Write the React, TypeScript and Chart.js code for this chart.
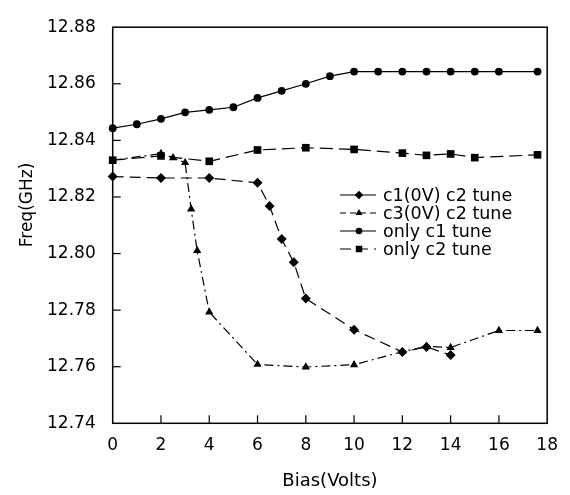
import React, { useEffect, useRef } from "react";
import { Chart, registerables } from "chart.js";
Chart.register(...registerables);

// ---- data ----
const xTickValues = [0, 2, 4, 6, 8, 10, 12, 14, 16, 18];
const yTickValues = [12.74, 12.76, 12.78, 12.8, 12.82, 12.84, 12.86, 12.88];

const seriesNames = ["c1(0V) c2 tune", "c3(0V) c2 tune", "only c1 tune", "only c2 tune"];
const xTitle = "Bias(Volts)";
const yTitle = "Freq(GHz)";

const c1v0Bias = [0, 2, 4, 6, 6.5, 7, 7.5, 8, 10, 12, 13, 14];
const c1v0Freq = [12.8272, 12.8267, 12.8267, 12.825, 12.8168, 12.8051, 12.7969, 12.7841, 12.7731, 12.7652, 12.767, 12.7641];

const c3v0Bias = [0, 2, 2.5, 3, 3.25, 3.5, 4, 6, 8, 10, 12, 13, 14, 16, 17.6];
const c3v0Freq = [12.833, 12.8353, 12.8338, 12.8321, 12.8157, 12.801, 12.7793, 12.7608, 12.7599, 12.7607, 12.7653, 12.7672, 12.7668, 12.7728, 12.7728];

const c1OnlyBias = [0, 1, 2, 3, 4, 5, 6, 7, 8, 9, 10, 11, 12, 13, 14, 15, 16, 17.6];
const c1OnlyFreq = [12.8443, 12.8457, 12.8476, 12.8499, 12.8508, 12.8517, 12.855, 12.8575, 12.86, 12.8627, 12.8643, 12.8643, 12.8643, 12.8643, 12.8643, 12.8643, 12.8643, 12.8643];

const c2OnlyBias = [0, 2, 4, 6, 8, 10, 12, 13, 14, 15, 17.6];
const c2OnlyFreq = [12.833, 12.8345, 12.8326, 12.8366, 12.8374, 12.8368, 12.8355, 12.8347, 12.8352, 12.8339, 12.8349];

const FONT = "'DejaVu Sans', sans-serif";

const toPoints = (xs: number[], ys: number[]) => xs.map((x, i) => ({ x, y: ys[i] }));

const styles = [
  { pointStyle: "rectRot", radius: 5, dash: [11, 6], legendDash: [] as number[] },
  { pointStyle: "triangle", radius: 4.8, dash: [9, 4, 2, 4], legendDash: [6, 4] },
  { pointStyle: "circle", radius: 3.9, dash: [] as number[], legendDash: [] as number[] },
  { pointStyle: "rect", radius: 5.4, dash: [13, 6], legendDash: [11, 6] },
];

function drawMarker(ctx: CanvasRenderingContext2D, style: string, r: number, x: number, y: number) {
  ctx.beginPath();
  if (style === "circle") {
    ctx.arc(x, y, r, 0, Math.PI * 2);
  } else if (style === "rect") {
    const s = Math.SQRT1_2 * r;
    ctx.rect(x - s, y - s, 2 * s, 2 * s);
  } else if (style === "rectRot") {
    ctx.moveTo(x, y - r);
    ctx.lineTo(x + r, y);
    ctx.lineTo(x, y + r);
    ctx.lineTo(x - r, y);
    ctx.closePath();
  } else if (style === "triangle") {
    const a = (Math.PI * 2) / 3;
    ctx.moveTo(x, y - r);
    ctx.lineTo(x + r * Math.sin(a), y - r * Math.cos(a));
    ctx.lineTo(x - r * Math.sin(a), y - r * Math.cos(a));
    ctx.closePath();
  }
  ctx.fillStyle = "#000";
  ctx.fill();
}

const framePlugin = {
  id: "frameTicks",
  afterDraw(chart: any) {
    const { ctx, chartArea } = chart;
    const { left, right, top, bottom } = chartArea;
    const xs = chart.scales.x;
    const ys = chart.scales.y;
    ctx.save();
    ctx.strokeStyle = "#000";
    ctx.lineWidth = 1.5;
    ctx.setLineDash([]);
    ctx.strokeRect(left, top, right - left, bottom - top);
    ctx.lineWidth = 1.2;
    const tl = 8;
    xTickValues.slice(1, -1).forEach((v) => {
      const px = xs.getPixelForValue(v);
      ctx.beginPath();
      ctx.moveTo(px, bottom);
      ctx.lineTo(px, bottom - tl);
      ctx.stroke();
    });
    yTickValues.slice(1, -1).forEach((v) => {
      const py = ys.getPixelForValue(v);
      ctx.beginPath();
      ctx.moveTo(left, py);
      ctx.lineTo(left + tl, py);
      ctx.stroke();
    });
    // y axis title
    ctx.save();
    ctx.translate(28, 205);
    ctx.rotate(-Math.PI / 2);
    ctx.font = `17px ${FONT}`;
    ctx.fillStyle = "#000";
    ctx.textAlign = "center";
    ctx.textBaseline = "middle";
    ctx.fillText(yTitle, 0, 0);
    ctx.restore();
    // legend
    const lx0 = 340, lx1 = 376, mx = 359, tx = 383, ly0 = 195, dy = 18;
    ctx.font = `17.5px ${FONT}`;
    ctx.textBaseline = "middle";
    ctx.textAlign = "left";
    seriesNames.forEach((name, i) => {
      const y = ly0 + i * dy;
      ctx.strokeStyle = "#000";
      ctx.lineWidth = 1.2;
      ctx.setLineDash(styles[i].legendDash);
      ctx.beginPath();
      ctx.moveTo(lx0, y);
      ctx.lineTo(lx1, y);
      ctx.stroke();
      ctx.setLineDash([]);
      drawMarker(ctx, styles[i].pointStyle, styles[i].radius * 0.85, mx, y);
      ctx.fillStyle = "#000";
      ctx.fillText(name, tx, y + 1);
    });
    ctx.restore();
  },
};

export default function App() {
  const ref = useRef<HTMLCanvasElement | null>(null);
  useEffect(() => {
    if (!ref.current) return;
    const allData = [
      toPoints(c1v0Bias, c1v0Freq),
      toPoints(c3v0Bias, c3v0Freq),
      toPoints(c1OnlyBias, c1OnlyFreq),
      toPoints(c2OnlyBias, c2OnlyFreq),
    ];
    const chart = new Chart(ref.current, {
      type: "line",
      data: {
        datasets: allData.map((d, i) => ({
          label: seriesNames[i],
          data: d,
          borderColor: "#000",
          backgroundColor: "#000",
          borderWidth: 1.2,
          borderDash: styles[i].dash,
          pointStyle: styles[i].pointStyle as any,
          pointRadius: styles[i].radius,
          pointBorderWidth: 0,
          pointBackgroundColor: "#000",
          tension: 0,
          clip: false as any,
        })),
      },
      options: {
        animation: false,
        responsive: false,
        devicePixelRatio: 1,
        layout: { padding: { left: 0, right: 10.7, top: 14.3, bottom: 0 } },
        plugins: { legend: { display: false }, tooltip: { enabled: false } },
        scales: {
          x: {
            type: "linear",
            min: 0,
            max: 18,
            grid: { display: false, drawTicks: false },
            border: { display: false },
            afterBuildTicks: (s: any) => {
              s.ticks = xTickValues.map((v) => ({ value: v }));
            },
            afterFit: (s: any) => {
              s.height = 495 - 423.3;
            },
            ticks: {
              color: "#000",
              font: { family: FONT, size: 17 },
              padding: 12,
              maxRotation: 0,
              autoSkip: false,
            },
            title: {
              display: true,
              text: xTitle,
              color: "#000",
              font: { family: FONT, size: 18 },
              padding: { top: 0, bottom: 3 },
            },
          },
          y: {
            type: "linear",
            min: 12.74,
            max: 12.88,
            grid: { display: false, drawTicks: false },
            border: { display: false },
            afterBuildTicks: (s: any) => {
              s.ticks = yTickValues.map((v) => ({ value: v }));
            },
            afterFit: (s: any) => {
              s.width = 112.7;
            },
            ticks: {
              color: "#000",
              font: { family: FONT, size: 17 },
              padding: 17,
              callback: (v: any) => Number(v).toFixed(2),
            },
            title: { display: false },
          },
        },
      },
      plugins: [framePlugin],
    });
    return () => chart.destroy();
  }, []);
  return (
    <div style={{ position: "absolute", left: 0, top: 0, width: 570, height: 495, background: "#fff" }}>
      <canvas ref={ref} width={570} height={495} />
    </div>
  );
}
